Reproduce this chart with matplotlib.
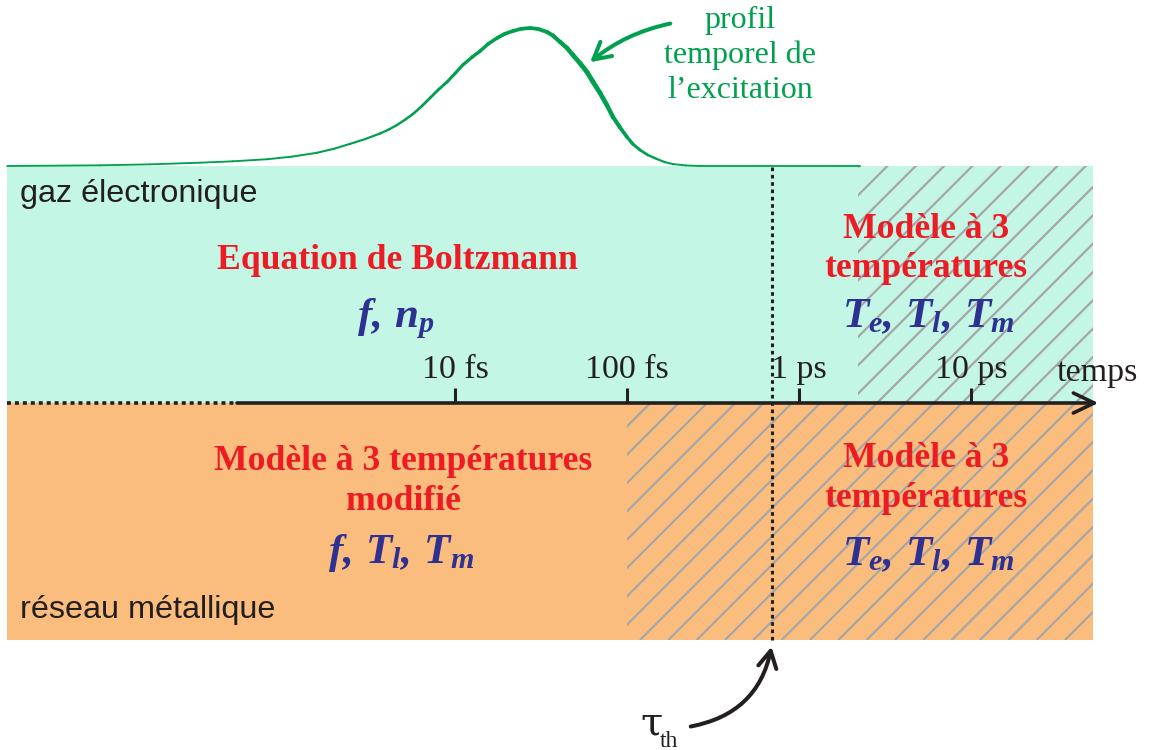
import numpy as np
import matplotlib.pyplot as plt
import matplotlib.transforms as mtransforms
from matplotlib.collections import LineCollection
from matplotlib.patches import Rectangle, FancyArrowPatch

plt.rcParams['mathtext.fontset'] = 'custom'
plt.rcParams['mathtext.rm'] = 'Liberation Serif:bold:italic'
plt.rcParams['mathtext.it'] = 'Liberation Serif:bold:italic'
plt.rcParams['mathtext.bf'] = 'Liberation Serif:bold:italic'

# time axis, in fs (log scale)
tick_times = [10, 100, 1000, 10000]
tick_labels = ['10 fs', '100 fs', '1 ps', '10 ps']
t_start = 0.025     # left edge of the two bands
t_solid = 0.54      # where the time axis becomes solid
t_end = 51000       # right edge of the bands
t_arrow = 55000     # arrow tip
tau_th = 700        # thermalisation time
hatch_e = 2200      # electron gas: 3T model from here
hatch_l = 100       # lattice: 3T model from here

# excitation pulse (time in fs, relative amplitude)
pulse_t = [0.0249, 0.0863, 0.169, 0.329, 0.512, 0.807, 1.13, 1.58, 1.98, 2.45,
           3.0, 3.66, 4.13, 4.6, 5.12, 5.7, 6.43, 7.16, 7.96, 8.99, 10.0, 11.1,
           12.6, 14.0, 15.6, 17.6, 19.5, 21.7, 24.2, 27.3, 30.4, 34.3, 37.1, 40.8,
           44.8, 48.5, 53.3, 58.5, 63.4, 69.7, 76.5, 82.9, 91.0, 100, 108, 119,
           132, 149, 166, 185, 220, 266, 2263]
pulse_amp = [0.0, 0.005, 0.012, 0.024, 0.034, 0.049, 0.068, 0.096, 0.125, 0.16,
             0.195, 0.235, 0.265, 0.297, 0.335, 0.377, 0.435, 0.493, 0.55, 0.609,
             0.67, 0.732, 0.79, 0.833, 0.885, 0.928, 0.958, 0.978, 0.994, 1.0,
             0.993, 0.971, 0.945, 0.899, 0.855, 0.804, 0.745, 0.681, 0.61, 0.529,
             0.44, 0.355, 0.28, 0.21, 0.16, 0.116, 0.08, 0.051, 0.028, 0.014,
             0.004, 0.0, 0.0]

W, H = 1149, 750
ink = '#231F20'
red = '#ED1C24'
blue = '#2E3192'
green = '#00A04E'

fig = plt.figure(figsize=(W / 100, H / 100), dpi=100)
ax = fig.add_axes([0, 0, 1, 1])
ax.set_xscale('log')
ax.set_xlim(10 ** (1 - 455 / 172), 10 ** (1 + 694 / 172))
ax.set_ylim(-1 - 110 / 237, 1 + 166 / 237)
ax.axis('off')
# pixel positions (origin top-left) for the annotations
pix = mtransforms.Affine2D().scale(1 / W, -1 / H).translate(0, 1) + ax.transAxes

# the two bands
ax.fill_between([t_start, t_end], 0, 1, color='#C4F6E6', lw=0, zorder=0)
ax.fill_between([t_start, t_end], -1, 0, color='#FBBD7D', lw=0, zorder=0)

# hatched zones where the 3-temperature model holds
clip_e = Rectangle((hatch_e, 0), t_end - hatch_e, 1, facecolor='none', edgecolor='none')
clip_l = Rectangle((hatch_l, -1), t_end - hatch_l, 1, facecolor='none', edgecolor='none')
ax.add_patch(clip_e)
ax.add_patch(clip_l)
offs = np.arange(-20, 45) * 28.33 + 640
segs = [[(c, 640), (c + 480, 160)] for c in offs]
for clip in (clip_e, clip_l):
    lc = LineCollection(segs, colors='#A6A6A6', linewidths=1.6, transform=pix, zorder=1)
    ax.add_collection(lc)
    lc.set_clip_path(clip)

# time axis
ax.plot([t_start, t_solid], [0, 0], color=ink, lw=2.6, ls=(0, (1.1, 1.1)),
        dash_capstyle='butt', zorder=4)
ax.annotate('', xy=(t_arrow, 0), xytext=(t_solid, 0),
            arrowprops=dict(arrowstyle='->,head_length=0.75,head_width=0.36', lw=2.6,
                            color=ink, mutation_scale=20, shrinkA=0, shrinkB=0), zorder=4)
ax.vlines(tick_times, 0, 15 / 237, color=ink, lw=2.2, zorder=4)
for t, lab in zip(tick_times, tick_labels):
    ax.text(t, 25 / 237, lab, ha='center', va='baseline', fontsize=24.5,
            family='Liberation Serif', color=ink, zorder=5)
ax.text(1097, 381, 'temps', transform=pix, ha='center', va='baseline', fontsize=24.5,
        family='Liberation Serif', color=ink, zorder=5)

# thermalisation time
ax.plot([tau_th, tau_th], [-1, 1], color=ink, lw=2.2, ls=(0, (1.2, 1.2)),
        dash_capstyle='butt', zorder=3)

# excitation pulse (thin tails, heavier on the falling edge)
amp = np.array(pulse_amp)
py = 1 + amp * 138 / 237
pts = np.column_stack([pulse_t, py])
seg = np.stack([pts[:-1], pts[1:]], axis=1)
amid = (amp[:-1] + amp[1:]) / 2
fall = np.array(pulse_t[:-1]) >= 27
widths = 1.3 + 1.4 * amid + np.where(fall, 5.6 * amid * (1 - amid), 0)
ax.add_collection(LineCollection(seg, colors=green, linewidths=widths,
                                 capstyle='round', joinstyle='round', zorder=4))

for y, line in zip([28, 63, 98], ['profil', 'temporel de', 'l\u2019excitation']):
    ax.text(740, y, line, transform=pix, ha='center', va='baseline', fontsize=23,
            family='Liberation Serif', color=green, zorder=5)
ax.add_patch(FancyArrowPatch((673, 23), (588, 64), transform=pix,
                             connectionstyle='arc3,rad=0.13',
                             arrowstyle='->,head_length=0.6,head_width=0.33',
                             mutation_scale=20, lw=2.9, color=green, zorder=5))

# band names
ax.text(20, 202, 'gaz électronique', transform=pix, ha='left', va='baseline',
        fontsize=23.3, family='Liberation Sans', color=ink, zorder=5)
ax.text(20, 618, 'réseau métallique', transform=pix, ha='left', va='baseline',
        fontsize=23.3, family='Liberation Sans', color=ink, zorder=5)

# models
bold = dict(transform=pix, ha='center', va='baseline', fontsize=25.7,
            family='Liberation Serif', weight='bold', color=red, zorder=5)
math = dict(transform=pix, ha='center', va='baseline', fontsize=31, color=blue, zorder=5)

ax.text(397, 269, 'Equation de Boltzmann', **bold)
ax.text(396, 327, r'$f,\,n_p$', **math)

ax.text(403, 470, 'Modèle à 3 températures', **bold)
ax.text(403, 510, 'modifié', **bold)
ax.text(401, 563, r'$f,\,T_l,\,T_m$', **math)

ax.text(926, 238, 'Modèle à 3', **bold)
ax.text(926, 277, 'températures', **bold)
ax.text(928, 327, r'$T_e,\,T_l,\,T_m$', **math)

ax.text(926, 467, 'Modèle à 3', **bold)
ax.text(926, 507, 'températures', **bold)
ax.text(928, 565, r'$T_e,\,T_l,\,T_m$', **math)

# tau_th label and arrow
ax.text(652, 734, 'τ', transform=pix, ha='center', va='baseline', fontsize=29,
        family='DejaVu Serif', color=ink, zorder=5)
ax.text(660, 747, 'th', transform=pix, ha='left', va='baseline', fontsize=17,
        family='Liberation Serif', color=ink, zorder=5)
ax.add_patch(FancyArrowPatch((688, 727), (772, 644), transform=pix,
                             connectionstyle='arc3,rad=0.35',
                             arrowstyle='->,head_length=0.6,head_width=0.33',
                             mutation_scale=20, lw=2.9, color=ink, zorder=5))

fig.savefig('out.png', dpi=100)
